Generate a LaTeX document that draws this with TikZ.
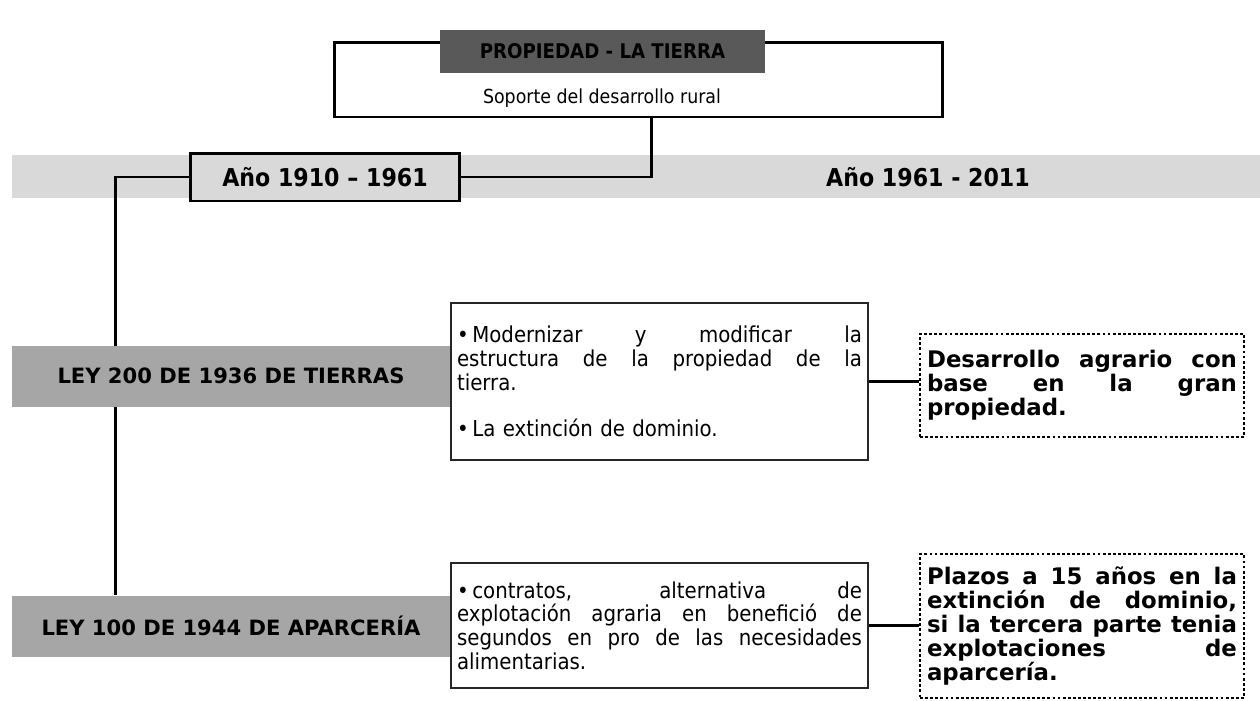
\documentclass[tikz,border=0pt]{standalone}
\usepackage{fontspec}
\setmainfont{DejaVu Sans}
\newfontfamily\condfont{DejaVu Sans Condensed}
\definecolor{bandgray}{HTML}{D9D9D9}
\definecolor{headgray}{HTML}{595959}
\definecolor{leygray}{HTML}{A6A6A6}
\newcommand{\jline}[1]{\hbox to \hsize{\spaceskip=0.3333em plus 1fil\relax #1}}

\tikzstyle{header} = [rectangle, minimum width=6.5cm, minimum height=0.86cm, text centered, fill=headgray, font=\condfont\bfseries\fontsize{11.5}{13}\selectfont]
\tikzstyle{outerbox} = [rectangle, minimum width=12.18cm, minimum height=1.5cm, draw=black, line width=1.7pt]
\tikzstyle{band} = [rectangle, minimum width=24.96cm, minimum height=0.86cm, fill=bandgray]
\tikzstyle{yearbox} = [rectangle, minimum width=5.4cm, minimum height=0.96cm, draw=black, line width=1.7pt, fill=bandgray, font=\condfont\bfseries\fontsize{14}{16}\selectfont]
\tikzstyle{yeartext} = [font=\condfont\bfseries\fontsize{14}{16}\selectfont]
\tikzstyle{ley} = [rectangle, minimum width=8.76cm, minimum height=1.22cm, fill=leygray, font=\bfseries\fontsize{12}{14}\selectfont]
\tikzstyle{textbox} = [rectangle, minimum width=8.34cm, text width=8.1cm, align=left, draw=black!85, line width=1.1pt, fill=white, font=\condfont\fontsize{12.5}{13.4}\selectfont]
\tikzstyle{notebox} = [rectangle, minimum width=6.48cm, text width=6.2cm, align=left, draw=black, line width=1.6pt, dash pattern=on 1.6pt off 1.3pt, font=\bfseries\fontsize{13}{13.6}\selectfont]
\tikzstyle{line} = [line width=1.7pt]

\begin{document}
\begin{tikzpicture}[x=0.02cm, y=-0.02cm]
\useasboundingbox (0,0) rectangle (1260,700);
\node (band) [band] at (636,176.5) {};
\node (soporte) [outerbox] at (638.5,79.5) {};
\node (titulo) [header] at (602.5,51.5) {PROPIEDAD - LA TIERRA};
\node (soptxt) [font=\condfont\fontsize{11}{13}\selectfont] at (602,98) {Soporte del desarrollo rural};
\node (anio1) [yearbox] at (325,177) {Año 1910 – 1961};
\node (anio2) [yeartext] at (928,177) {Año 1961 - 2011};
\coordinate (drop) at (651,117);
\node (ley100) [ley] at (231,626) {LEY 100 DE 1944 DE APARCERÍA};
\draw [line] (drop) |- (anio1.east);
\draw [line] (anio1.west) -| ([xshift=2.08cm]ley100.north west);
\node (ley200) [ley] at (231,376) {LEY 200 DE 1936 DE TIERRAS};
\node (txt1) [textbox, minimum height=3.14cm] at (659.5,381.5) {\jline{•\,Modernizar y modificar la}
\jline{estructura de la propiedad de la}
tierra.\\[13pt]
•\,La extinción de dominio.};
\node (txt2) [textbox, minimum height=2.5cm] at (659.5,625.5) {\jline{•\,contratos, alternativa de}
\jline{explotación agraria en benefició de}
\jline{segundos en pro de las necesidades}
alimentarias.};
\node (nota1) [notebox, minimum height=2.06cm] at (1082,385.5) {\jline{Desarrollo agrario con}
\jline{base en la gran}
propiedad.};
\node (nota2) [notebox, minimum height=2.88cm] at (1082,626) {\jline{Plazos a 15 años en la}
\jline{extinción de dominio,}
\jline{si la tercera parte tenia}
\jline{explotaciones de}
aparcería.};
\draw [line] (txt1.east) -- (txt1.east -| nota1.west);
\draw [line] (txt2.east) -- (txt2.east -| nota2.west);
\end{tikzpicture}
\end{document}
